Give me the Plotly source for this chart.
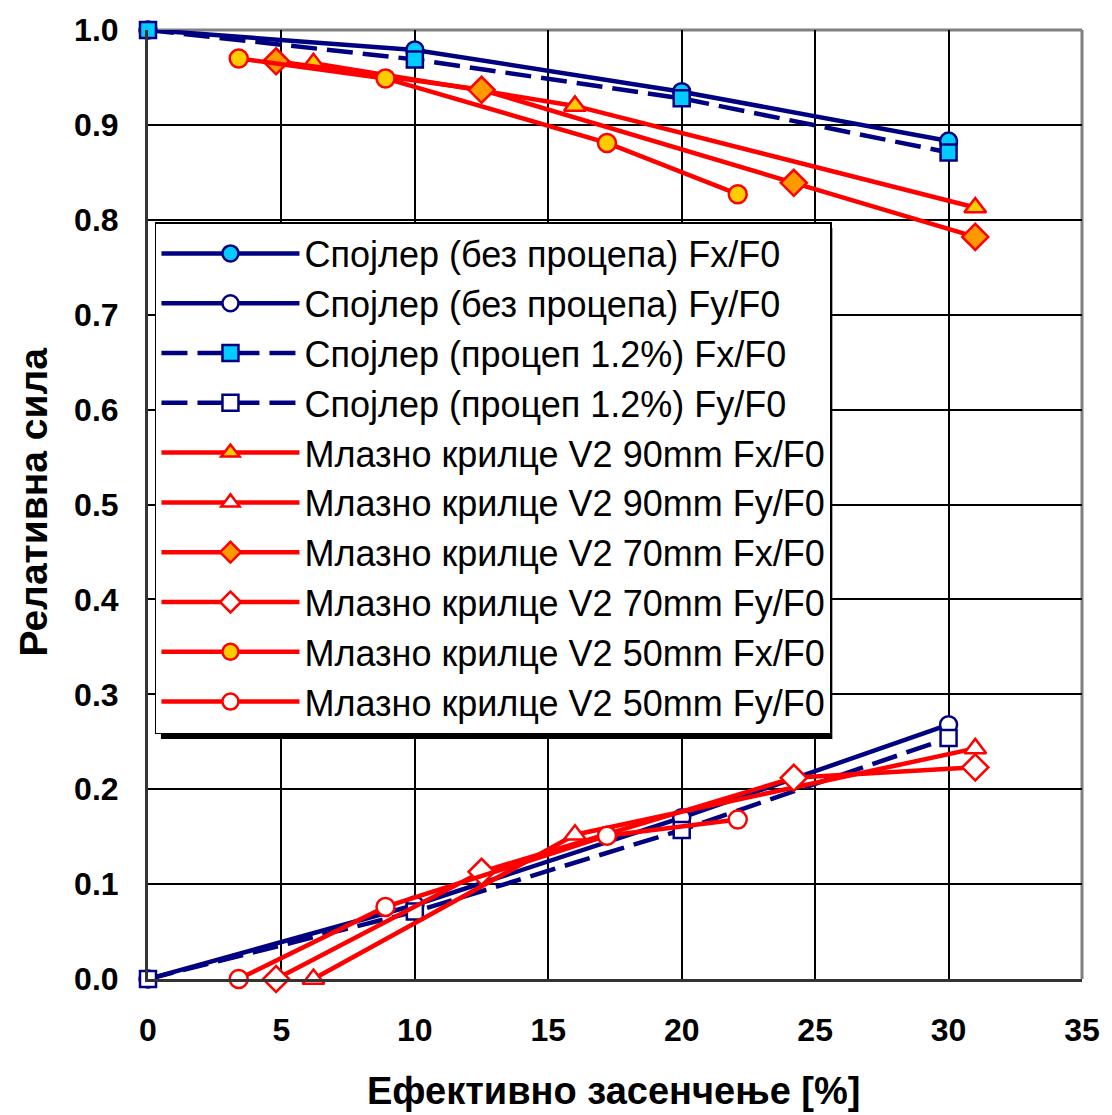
import plotly.graph_objects as go

# Effective shading [%] and relative force values per configuration
spoiler_x = [0, 10, 20, 30]
spoiler_fx = [1.0, 0.979, 0.935, 0.883]
spoiler_fy = [0.0, 0.078, 0.170, 0.268]
spoiler_gap_fx = [1.0, 0.969, 0.928, 0.871]
spoiler_gap_fy = [0.0, 0.071, 0.157, 0.254]

jet90_x = [6.2, 16.0, 31.0]
jet90_fx = [0.965, 0.920, 0.813]
jet90_fy = [0.0, 0.152, 0.243]

jet70_x = [4.8, 12.5, 24.2, 31.0]
jet70_fx = [0.967, 0.937, 0.839, 0.782]
jet70_fy = [0.0, 0.113, 0.212, 0.223]

jet50_x = [3.4, 8.9, 17.2, 22.1]
jet50_fx = [0.970, 0.949, 0.881, 0.827]
jet50_fy = [0.0, 0.076, 0.151, 0.168]

x_ticks = [0, 5, 10, 15, 20, 25, 30, 35]
y_ticks = [round(0.1 * i, 1) for i in range(11)]

NAVY = "#000080"
RED = "#FF0000"
CYAN = "#00CCFF"
GOLD = "#FFCC00"
ORANGE = "#FF9900"
WHITE = "#FFFFFF"
LONG_DASH = "26px,10px"

series = [
    ("Спојлер (без процепа) Fx/F0", spoiler_x, spoiler_fx, NAVY, "solid", "circle", CYAN, 17),
    ("Спојлер (без процепа) Fy/F0", spoiler_x, spoiler_fy, NAVY, "solid", "circle", WHITE, 17),
    ("Спојлер (процеп 1.2%) Fx/F0", spoiler_x, spoiler_gap_fx, NAVY, LONG_DASH, "square", CYAN, 16),
    ("Спојлер (процеп 1.2%) Fy/F0", spoiler_x, spoiler_gap_fy, NAVY, LONG_DASH, "square", WHITE, 16),
    ("Млазно крилце V2 90mm Fx/F0", jet90_x, jet90_fx, RED, "solid", "triangle-up", GOLD, 19),
    ("Млазно крилце V2 90mm Fy/F0", jet90_x, jet90_fy, RED, "solid", "triangle-up", WHITE, 19),
    ("Млазно крилце V2 70mm Fx/F0", jet70_x, jet70_fx, RED, "solid", "diamond", ORANGE, 20),
    ("Млазно крилце V2 70mm Fy/F0", jet70_x, jet70_fy, RED, "solid", "diamond", WHITE, 20),
    ("Млазно крилце V2 50mm Fx/F0", jet50_x, jet50_fx, RED, "solid", "circle", GOLD, 18),
    ("Млазно крилце V2 50mm Fy/F0", jet50_x, jet50_fy, RED, "solid", "circle", WHITE, 18),
]

fig = go.Figure()
for name, xs, ys, col, dash, sym, fill, size in series:
    fig.add_trace(go.Scatter(
        x=xs, y=ys, name=name, mode="lines+markers",
        line=dict(color=col, width=4.5, dash=dash),
        marker=dict(symbol=sym, size=size, color=fill,
                    line=dict(color=col, width=2.5)),
        cliponaxis=False,
    ))

FONT = "Arial, Liberation Sans, sans-serif"
L, R, T, B = 148, 25, 30, 136
W, H = 1112, 1115
pw, ph = W - L - R, H - T - B

def px_x(p):
    return (p - L) / pw

def px_y(p):
    return (H - B - p) / ph

# legend box (as laid out by plotly) and its drop shadow
leg_left, leg_top, leg_right, leg_bottom = 155, 222, 830, 733
shapes = [
    dict(type="rect", xref="paper", yref="paper", layer="above",
         x0=px_x(leg_left + 6), x1=px_x(leg_right + 6),
         y0=px_y(leg_bottom + 6), y1=px_y(leg_top + 6),
         fillcolor="black", line=dict(width=0)),
    # grey top and right frame edges
    dict(type="line", xref="paper", yref="paper", layer="between",
         x0=0, x1=1, y0=1, y1=1, line=dict(color="#808080", width=3)),
    dict(type="line", xref="paper", yref="paper", layer="between",
         x0=1, x1=1, y0=0, y1=1, line=dict(color="#808080", width=3)),
]

fig.update_layout(
    width=W, height=H,
    margin=dict(l=L, r=R, t=T, b=B),
    paper_bgcolor="white", plot_bgcolor="white",
    font=dict(family=FONT, color="black"),
    showlegend=True,
    legend=dict(
        x=px_x(leg_left), y=px_y(leg_top), xanchor="left", yanchor="top",
        bgcolor="white", bordercolor="black", borderwidth=1.5,
        font=dict(size=36, family=FONT, color="black"),
        itemwidth=138, itemsizing="trace",
    ),
    shapes=shapes,
    annotations=[
        dict(text="<b>Ефективно засенчење [%]</b>", xref="paper", yref="paper",
             x=px_x(616), y=px_y(1091), xanchor="center", yanchor="middle",
             showarrow=False, font=dict(size=38, family=FONT)),
        dict(text="<b>Релативна сила</b>", xref="paper", yref="paper",
             x=px_x(32), y=px_y(502), xanchor="center", yanchor="middle",
             textangle=-90, showarrow=False, font=dict(size=39, family=FONT)),
    ],
)

fig.update_xaxes(
    range=[0, 35], tickvals=x_ticks, ticktext=[str(v) for v in x_ticks],
    showgrid=True, gridcolor="black", gridwidth=1.5,
    showline=True, linecolor="#333333", linewidth=3, zeroline=False,
    ticks="", ticklabelstandoff=21,
    tickfont=dict(size=32, family=FONT, color="black", weight="bold"),
)
fig.update_yaxes(
    range=[0, 1.0], tickvals=y_ticks, ticktext=[f"{v:.1f}" for v in y_ticks],
    showgrid=True, gridcolor="black", gridwidth=1.5,
    showline=True, linecolor="#333333", linewidth=3, zeroline=False,
    ticks="", ticklabelstandoff=20,
    tickfont=dict(size=32, family=FONT, color="black", weight="bold"),
)

fig.write_html("out.html")
